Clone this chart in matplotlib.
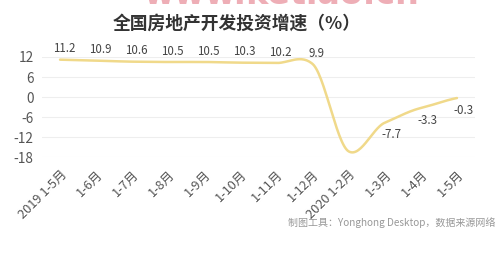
import numpy as np
import matplotlib
matplotlib.use("Agg")
import matplotlib.pyplot as plt

plt.rcParams['font.family'] = ['Noto Sans CJK SC', 'DejaVu Sans']

categories = ['2019 1-5月', '1-6月', '1-7月', '1-8月', '1-9月', '1-10月',
              '1-11月', '1-12月', '2020 1-2月', '1-3月', '1-4月', '1-5月']
growth = [11.2, 10.9, 10.6, 10.5, 10.5, 10.3, 10.2, 9.9, -16.3, -7.7, -3.3, -0.3]
labels_above = [True] * 8 + [None] + [False] * 3
yticks = [12, 6, 0, -6, -12, -18]

title = '全国房地产开发投资增速（%）'
footer = '制图工具：Yonghong Desktop，数据来源网络'
watermark = 'www.ketiao.cn'

LINE_COLOR = '#F0D98A'


def smooth_curve(x, y, scale=0.7, n=30):
    """Cardinal spline through the points (tangent scale controls tension)."""
    x = np.asarray(x, float)
    y = np.asarray(y, float)
    m = np.zeros_like(y)
    m[1:-1] = (y[2:] - y[:-2]) / 2.0 * scale
    m[0] = (y[1] - y[0]) * scale
    m[-1] = (y[-1] - y[-2]) * scale
    xs, ys = [], []
    t = np.linspace(0, 1, n, endpoint=False)
    h00 = 2 * t**3 - 3 * t**2 + 1
    h10 = t**3 - 2 * t**2 + t
    h01 = -2 * t**3 + 3 * t**2
    h11 = t**3 - t**2
    for i in range(len(x) - 1):
        dx = x[i + 1] - x[i]
        xs.append(x[i] + t * dx)
        ys.append(h00 * y[i] + h10 * m[i] + h01 * y[i + 1] + h11 * m[i + 1])
    xs.append([x[-1]])
    ys.append([y[-1]])
    return np.concatenate(xs), np.concatenate(ys)


fig = plt.figure(figsize=(5.0, 2.78), dpi=100)
ax = fig.add_axes([0.084, 0.435, 0.866, 0.36])

xpos = np.arange(len(categories))
sx, sy = smooth_curve(xpos, growth)
ax.plot(sx, sy, color=LINE_COLOR, lw=1.8, solid_capstyle='round', zorder=3)

for xi, v, above in zip(xpos, growth, labels_above):
    if above is None:
        continue
    if above:
        ax.annotate(f'{v:g}', (xi, v), xytext=(3, 3), textcoords='offset points',
                    ha='center', va='bottom', fontsize=8.3, color='#444444')
    else:
        ax.annotate(f'{v:g}', (xi, v), xytext=(5, -4), textcoords='offset points',
                    ha='center', va='top', fontsize=8.3, color='#444444')

ax.set_xlim(-0.5, len(categories) - 0.5)
ax.set_ylim(-18, 12)
ax.set_yticks(yticks)
ax.set_yticklabels([str(v) for v in yticks])
ax.set_xticks(xpos)
ax.set_xticklabels(categories, rotation=45, ha='right', rotation_mode='anchor')

ax.grid(axis='y', color='#EEEEEE', lw=0.8)
ax.set_axisbelow(True)
for s in ax.spines.values():
    s.set_visible(False)
ax.tick_params(axis='both', length=0, colors='#555555')
ax.tick_params(axis='y', labelsize=9.8, pad=6)
ax.tick_params(axis='x', labelsize=9.2, pad=8)

fig.text(0.474, 0.915, title, ha='center', va='center', fontsize=12.8,
         fontweight='bold', color='#333333')
fig.text(0.99, 0.2, footer, ha='right', va='center', fontsize=7.2,
         color='#999999')
fig.text(0.563, 0.984, watermark, ha='center', va='baseline', fontsize=24,
         fontweight='bold', color='#EBA0AA', family='DejaVu Sans', alpha=0.85)

fig.savefig('out.png', dpi=100, facecolor='white')
